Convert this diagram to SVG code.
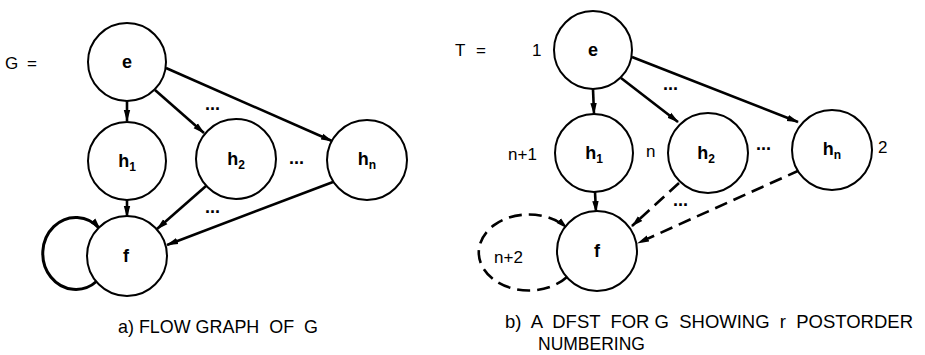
<svg xmlns="http://www.w3.org/2000/svg" width="925" height="355" viewBox="0 0 925 355">
<defs>
<marker id="ah" viewBox="0 0 12 8" refX="11" refY="4" markerWidth="12" markerHeight="8" markerUnits="userSpaceOnUse" orient="auto">
<path d="M0,0.8 L12,4 L0,7.2 Z" fill="#000"/>
</marker>
<style>
.node{fill:#fff;stroke:#000;stroke-width:2}
.lbl{font-family:"Liberation Sans",Arial,sans-serif;font-size:18px;font-weight:bold;text-anchor:middle;fill:#000}
.sub{font-size:12px}
.edge{fill:none;stroke:#000;stroke-width:2.6;marker-end:url(#ah)}
.dash{stroke-dasharray:13 7}
.txt{font-family:"Liberation Sans",Arial,sans-serif;font-size:17px;fill:#000}
.cap{font-family:"Liberation Sans",Arial,sans-serif;font-size:19px;fill:#000}
.dots{font-family:"Liberation Sans",Arial,sans-serif;font-size:18px;font-weight:bold;fill:#000}
</style>
</defs>
<rect width="925" height="355" fill="#fff"/>

<g id="connectors">
<path class="edge" d="M127,101 L127,121"/>
<path class="edge" d="M155,90 L204,133"/>
<path class="edge" d="M166,68 L332,141"/>
<path class="edge" d="M127,200 L127,217"/>
<path class="edge" d="M206,186 L157,229"/>
<path class="edge" d="M333,182 L167,245"/>
<path class="edge" d="M97,281 A33 36 0 1 1 100,229" style="stroke-width:3"/>
<path class="edge" d="M593,89 L594,114"/>
<path class="edge" d="M621,78 L678,122"/>
<path class="edge" d="M632,57 L798,122"/>
<path class="edge" d="M595,192 L596,212"/>
<path class="edge dash" d="M679,183 L632,226"/>
<path class="edge dash" d="M800,170 L638,243"/>
<path class="edge dash" d="M567,277 A50 38 0 1 1 567,228"/>
</g>

<g id="left-e"><circle class="node" cx="127" cy="62" r="39"/><text class="lbl" x="127" y="68">e</text></g>
<g id="left-h1"><circle class="node" cx="127" cy="161" r="39"/><text class="lbl" x="127" y="167">h<tspan class="sub" dy="4">1</tspan></text></g>
<g id="left-h2"><circle class="node" cx="236" cy="159" r="40"/><text class="lbl" x="236" y="165">h<tspan class="sub" dy="4">2</tspan></text></g>
<g id="left-hn"><circle class="node" cx="367" cy="160" r="40"/><text class="lbl" x="367" y="165">h<tspan class="sub" dy="4">n</tspan></text></g>
<g id="left-f"><circle class="node" cx="127" cy="256" r="40"/><text class="lbl" x="126" y="262">f</text></g>

<g id="right-e"><circle class="node" cx="593" cy="50" r="39"/><text class="lbl" x="593" y="56">e</text></g>
<g id="right-h1"><circle class="node" cx="594" cy="153" r="39"/><text class="lbl" x="594" y="159">h<tspan class="sub" dy="4">1</tspan></text></g>
<g id="right-h2"><circle class="node" cx="708" cy="153" r="40"/><text class="lbl" x="706" y="159">h<tspan class="sub" dy="4">2</tspan></text></g>
<g id="right-hn"><circle class="node" cx="832" cy="150" r="40"/><text class="lbl" x="832" y="155">h<tspan class="sub" dy="4">n</tspan></text></g>
<g id="right-f"><circle class="node" cx="597" cy="251" r="40"/><text class="lbl" x="597" y="257">f</text></g>

<g id="labels">
<text class="txt" x="5" y="69">G</text>
<text class="txt" x="27" y="69">=</text>
<text class="txt" x="455" y="56">T</text>
<text class="txt" x="476" y="56">=</text>
<text class="txt" x="532" y="56">1</text>
<text class="txt" x="508" y="160">n+1</text>
<text class="txt" x="646" y="157">n</text>
<text class="txt" x="878" y="153">2</text>
<text class="txt" x="494" y="263">n+2</text>
<text class="dots" x="205" y="110">...</text>
<text class="dots" x="289" y="164">...</text>
<text class="dots" x="205" y="213">...</text>
<text class="dots" x="663" y="90">...</text>
<text class="dots" x="756" y="150">...</text>
<text class="dots" x="673" y="206">...</text>
<text class="cap" x="118" y="333" textLength="200" lengthAdjust="spacingAndGlyphs" xml:space="preserve">a) FLOW GRAPH  OF  G</text>
<text class="cap" x="505" y="328" textLength="408" lengthAdjust="spacingAndGlyphs" xml:space="preserve">b)  A  DFST  FOR G  SHOWING  r  POSTORDER</text>
<text class="cap" x="538" y="350" textLength="107" lengthAdjust="spacingAndGlyphs">NUMBERING</text>
</g>
</svg>
